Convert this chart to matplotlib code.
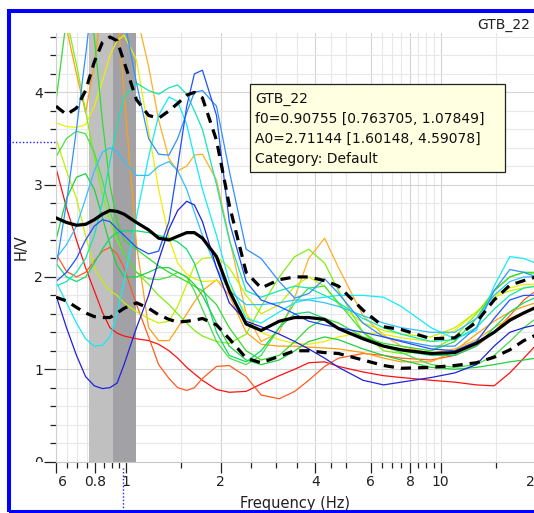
import matplotlib
matplotlib.use("Agg")
import matplotlib.pyplot as plt
from matplotlib.ticker import NullFormatter
from matplotlib.transforms import Bbox
from matplotlib.lines import Line2D
from matplotlib.patches import Rectangle

# frequencies (Hz) where the curves were read
freq = [0.599, 0.647, 0.696, 0.744, 0.793, 0.841, 0.889, 0.937, 0.986, 1.08, 1.18, 1.27,
        1.37, 1.46, 1.56, 1.65, 1.75, 1.94, 2.13, 2.41, 2.69, 3.07, 3.44, 3.81, 4.28, 4.74,
        5.67, 6.59, 7.50, 9.33, 11.1, 13.0, 14.8, 16.6, 18.4, 20.1]

# individual H/V curves
red = [3.18, 2.75, 2.40, 2.10, 1.85, 1.62, 1.45, 1.39, 1.36, 1.33, 1.31, 1.27, 1.20, 1.12, 1.02, 0.95, 0.88, 0.78,
       0.75, 0.76, 0.84, 0.93, 1.00, 1.07, 1.08, 1.03, 0.97, 0.93, 0.91, 0.88, 0.86, 0.83, 0.82, 0.96, 1.12, 1.26]
orange_red = [2.25, 2.06, 2.00, 2.05, 2.17, 2.28, 2.32, 2.25, 2.10, 1.70, 1.35, 1.05, 0.90, 0.80, 0.77, 0.80, 0.90, 1.03,
              1.04, 0.92, 0.72, 0.68, 0.76, 0.88, 1.03, 1.12, 1.17, 1.15, 1.12, 1.10, 1.15, 1.25, 1.40, 1.58, 1.75, 1.85]
orange_a = [5.2, 4.7, 4.2, 3.78, 4.3, 5.0, 5.2, 4.9, 4.0, 2.35, 1.45, 1.31, 1.31, 1.45, 1.6, 1.73, 1.85, 1.97,
            1.8, 1.4, 1.27, 1.25, 1.25, 1.24, 1.23, 1.22, 1.18, 1.12, 1.08, 1.08, 1.2, 1.38, 1.52, 1.62, 1.68, 1.72]
orange_b = [5.3, 5.3, 5.3, 5.3, 5.3, 5.3, 5.3, 5.3, 5.2, 4.85, 4.28, 3.7, 3.28, 3.15, 3.2, 3.32, 3.33, 3.05,
            2.42, 1.6, 1.3, 1.4, 1.78, 2.2, 2.42, 2.1, 1.58, 1.37, 1.25, 1.17, 1.22, 1.32, 1.45, 1.55, 1.62, 1.68]
yellow = [3.67, 3.63, 3.62, 3.65, 3.85, 4.12, 4.4, 4.56, 4.62, 4.35, 3.58, 2.95, 2.42, 2.15, 2.03, 1.98, 1.95, 1.96,
          1.9, 1.6, 1.4, 1.32, 1.28, 1.27, 1.3, 1.35, 1.4, 1.38, 1.34, 1.3, 1.42, 1.62, 1.8, 1.88, 1.92, 1.92]
yellow_green = [3.5, 3.15, 2.85, 2.45, 2.1, 1.95, 1.85, 1.8, 1.72, 1.62, 1.55, 1.5, 1.52, 1.68, 1.92, 2.12, 2.2, 2.22,
                2.1, 1.8, 1.6, 1.7, 1.9, 2.0, 1.9, 1.7, 1.5, 1.42, 1.38, 1.35, 1.45, 1.62, 1.78, 1.85, 1.88, 1.9]
light_green = [5.0, 4.8, 4.3, 3.8, 3.3, 2.9, 2.6, 2.4, 2.25, 2.05, 1.92, 1.8, 1.7, 1.6, 1.5, 1.42, 1.36, 1.3,
               1.28, 1.38, 1.68, 2.0, 2.22, 2.3, 2.15, 1.85, 1.4, 1.2, 1.17, 1.2, 1.35, 1.6, 1.85, 2.0, 2.05, 2.03]
green1 = [3.9, 4.8, 5.3, 5.2, 4.6, 3.7, 3.0, 2.6, 2.4, 2.3, 2.2, 2.12, 2.05, 2.0, 1.95, 1.9, 1.85, 1.7,
          1.45, 1.2, 1.1, 1.15, 1.3, 1.45, 1.55, 1.5, 1.35, 1.28, 1.25, 1.2, 1.3, 1.55, 1.85, 2.0, 2.05, 2.05]
green2 = [3.3, 3.5, 3.58, 3.55, 3.35, 3.05, 2.72, 2.45, 2.25, 2.05, 1.98, 1.97, 2.0, 2.05, 2.0, 1.85, 1.65, 1.3,
          1.12, 1.05, 1.15, 1.45, 1.72, 1.88, 1.9, 1.72, 1.4, 1.25, 1.18, 1.05, 1.02, 1.05, 1.15, 1.3, 1.45, 1.55]
green3 = [2.4, 2.85, 3.08, 3.12, 2.95, 2.65, 2.35, 2.12, 2.0, 2.0, 2.05, 2.1, 2.1, 2.05, 2.0, 1.92, 1.8, 1.5,
          1.25, 1.1, 1.05, 1.1, 1.2, 1.3, 1.35, 1.32, 1.22, 1.15, 1.1, 1.02, 1.0, 1.02, 1.05, 1.08, 1.1, 1.12]
green4 = [2.15, 2.0, 1.95, 2.0, 2.15, 2.3, 2.42, 2.48, 2.5, 2.5, 2.48, 2.45, 2.42, 2.38, 2.3, 2.15, 1.9, 1.4,
          1.15, 1.08, 1.2, 1.45, 1.6, 1.62, 1.55, 1.45, 1.32, 1.25, 1.2, 1.15, 1.15, 1.25, 1.45, 1.62, 1.72, 1.78]
aqua = [1.9, 1.95, 2.05, 2.2, 2.45, 2.8, 3.25, 3.65, 3.95, 4.1, 4.02, 3.98, 4.05, 4.08, 3.98, 3.8, 3.6, 3.0,
        2.4, 1.85, 1.78, 1.85, 1.9, 1.88, 1.8, 1.72, 1.55, 1.45, 1.38, 1.3, 1.32, 1.45, 1.65, 1.8, 1.88, 1.9]
cyan = [1.95, 1.72, 1.5, 1.33, 1.25, 1.26, 1.35, 1.6, 1.95, 2.65, 3.3, 3.75, 3.95, 3.9, 3.65, 3.3, 2.95, 2.45,
        1.95, 1.55, 1.5, 1.62, 1.72, 1.76, 1.78, 1.8, 1.8, 1.78, 1.68, 1.45, 1.33, 1.42, 1.9, 2.22, 2.2, 2.15]
sky = [2.2, 2.35, 2.55, 2.85, 3.15, 3.35, 3.4, 3.36, 3.25, 3.1, 3.1, 3.2, 3.25, 3.15, 2.95, 2.7, 2.45, 2.1,
       1.85, 1.7, 1.7, 1.72, 1.75, 1.75, 1.72, 1.68, 1.58, 1.5, 1.45, 1.4, 1.4, 1.55, 1.8, 1.95, 2.0, 2.0]
light_blue = [2.1, 2.8, 3.6, 4.4, 5.2, 5.5, 5.5, 5.3, 4.8, 4.1, 3.5, 3.33, 3.32, 3.5, 3.78, 4.0, 4.02, 3.85,
              3.15, 2.3, 2.2, 1.95, 1.77, 1.82, 1.98, 1.82, 1.5, 1.35, 1.31, 1.25, 1.25, 1.45, 1.85, 2.08, 2.05, 2.0]
blue = [1.95, 2.05, 2.2, 2.4, 2.55, 2.62, 2.6, 2.52, 2.45, 2.32, 2.25, 2.28, 2.6, 3.2, 3.85, 4.2, 4.24, 3.75,
        2.6, 1.95, 1.75, 1.68, 1.6, 1.52, 1.48, 1.45, 1.4, 1.35, 1.3, 1.22, 1.2, 1.3, 1.55, 1.75, 1.8, 1.8]
dark_blue = [1.8, 1.45, 1.15, 0.92, 0.82, 0.79, 0.8, 0.85, 1.05, 1.45, 1.8, 2.18, 2.52, 2.72, 2.82, 2.78, 2.6, 2.1,
             1.72, 1.52, 1.46, 1.38, 1.3, 1.22, 1.12, 1.02, 0.88, 0.83, 0.86, 0.91, 0.96, 1.05, 1.25, 1.4, 1.45, 1.48]

# average curve and +/- std
hv_mean = [2.64, 2.59, 2.56, 2.57, 2.62, 2.68, 2.72, 2.71, 2.68, 2.59, 2.51, 2.42, 2.40, 2.44, 2.48, 2.48, 2.42, 2.22,
           1.85, 1.49, 1.42, 1.52, 1.56, 1.56, 1.54, 1.44, 1.33, 1.25, 1.21, 1.17, 1.18, 1.28, 1.40, 1.53, 1.61, 1.67]
hv_upper = [3.85, 3.76, 3.83, 4.02, 4.33, 4.54, 4.60, 4.56, 4.33, 3.92, 3.75, 3.72, 3.80, 3.88, 3.97, 4.00, 3.94, 3.48,
            2.78, 2.05, 1.88, 1.97, 2.00, 2.00, 1.96, 1.90, 1.64, 1.46, 1.43, 1.33, 1.34, 1.51, 1.75, 1.91, 1.96, 2.00]
hv_lower = [1.78, 1.74, 1.67, 1.61, 1.57, 1.56, 1.56, 1.61, 1.66, 1.72, 1.66, 1.59, 1.54, 1.51, 1.52, 1.53, 1.55, 1.48,
            1.33, 1.12, 1.07, 1.14, 1.20, 1.20, 1.18, 1.17, 1.10, 1.04, 1.01, 1.02, 1.04, 1.07, 1.13, 1.21, 1.31, 1.37]

f0, f0_lo, f0_hi = 0.90755, 0.763705, 1.07849

xmajor = [0.6, 0.8, 1, 2, 4, 6, 8, 10, 20]
xmajor_labels = ['0.6', '0.8', '1', '2', '4', '6', '8', '10', '20']
xminor = [0.65, 0.7, 0.75, 0.85, 0.9, 0.95, 1.5, 2.5, 3, 3.5, 4.5, 5, 6.5, 7, 7.5, 8.5, 9, 9.5, 15]
ymajor = [0, 1, 2, 3, 4]
yminor = [0.2, 0.4, 0.6, 0.8, 1.2, 1.4, 1.6, 1.8, 2.2, 2.4, 2.6, 2.8, 3.2, 3.4, 3.6, 3.8, 4.2, 4.4, 4.6]

tooltip_lines = ['GTB_22', 'f0=0.90755 [0.763705, 1.07849]',
                 'A0=2.71144 [1.60148, 4.59078]', 'Category: Default']

curves = [
    (red, '#ff1010'), (orange_red, '#ff5a20'), (orange_a, '#ffa010'), (orange_b, '#ffb020'),
    (yellow, '#eeee00'), (yellow_green, '#c4f000'), (light_green, '#80ee10'), (green1, '#30dd30'),
    (green2, '#44e044'), (green3, '#20d040'), (green4, '#10d870'), (aqua, '#10e8b0'),
    (cyan, '#10ecf8'), (sky, '#30c0ff'), (light_blue, '#3090ff'), (blue, '#2050ff'),
    (dark_blue, '#2020e0'),
]

W, H = 534, 513
fig = plt.figure(figsize=(W / 100, H / 100), dpi=100)
ax = fig.add_axes([56.2 / W, (H - 461.5) / H, (538.6 - 56.2) / W, (461.5 - 33.3) / H])

ax.axvspan(f0_lo, f0, color='#c0c0c0', lw=0, zorder=1)
ax.axvspan(f0, f0_hi, color='#a2a2a6', lw=0, zorder=1)

for vals, c in curves:
    ax.plot(freq, vals, color=c, lw=0.9, zorder=2)

ax.plot(freq, hv_mean, color='black', lw=2.3, zorder=4)
ax.plot(freq, hv_upper, color='black', lw=2.3, dashes=(3.2, 2.2), zorder=4)
ax.plot(freq, hv_lower, color='black', lw=2.3, dashes=(3.2, 2.2), zorder=4)

ax.set_xscale('log')
ax.set_xlim(0.6, 20.5)
ax.set_ylim(0, 4.64)
ax.set_xticks(xmajor, labels=xmajor_labels)
ax.set_xticks(xminor, minor=True)
ax.xaxis.set_minor_formatter(NullFormatter())
ax.set_yticks(ymajor)
ax.set_yticks(yminor, minor=True)

ax.set_axisbelow(True)
ax.grid(True, which='major', color='#d4d4d4', lw=0.8)
ax.grid(True, which='minor', color='#e8e8e8', lw=0.8)

for s in ['top', 'right']:
    ax.spines[s].set_visible(False)
ax.spines['left'].set_color('#d0d0d0')
ax.spines['bottom'].set_color('#c8c8c8')
ax.spines['left'].set_linewidth(0.8)
ax.spines['bottom'].set_linewidth(0.8)

ax.tick_params(axis='x', which='major', length=8, width=0.9, pad=2, labelsize=10,
               colors='#202020')
ax.tick_params(axis='x', which='minor', length=4.3, width=0.9, colors='#202020')
ax.tick_params(axis='y', which='major', length=8.6, width=0.9, pad=1, labelsize=10,
               colors='#202020')
ax.tick_params(axis='y', which='minor', length=4.3, width=0.9, colors='#202020')

# the first labels are cut by the plot area, as in the original
xt = ax.xaxis.get_major_ticks()
xt[0].label1.set_clip_box(Bbox.from_extents(56.5, 0, W, H))
xt[0].label1.set_clip_on(True)
yt = ax.yaxis.get_major_ticks()
yt[0].label1.set_clip_box(Bbox.from_extents(0, H - 461.5, W, H))
yt[0].label1.set_clip_on(True)

ax.set_xlabel('Frequency (Hz)', fontsize=10.5, color='#202020', va='top')
ax.xaxis.set_label_coords(0.494, -0.08)
ax.set_ylabel('H/V', fontsize=10.5, color='#202020')
ax.yaxis.set_label_coords(-0.058, 0.5)

fig.text(477 / W, 1 - 25 / H, 'GTB_22', ha='left', va='center', fontsize=10, color='#202020')

# info box
fig.patches.append(Rectangle((249.5 / W, 1 - 171.7 / H), (505 - 249.5) / W, (171.7 - 84) / H,
                             transform=fig.transFigure, facecolor='#ffffe1', edgecolor='#202020',
                             lw=0.9, zorder=10))
for i, line in enumerate(tooltip_lines):
    fig.text(255 / W, 1 - (103 + 20 * i) / H, line, ha='left', va='baseline', fontsize=10,
             color='#101010', zorder=11)

# cursor markers
fig.lines.append(Line2D([123.3 / W, 123.3 / W], [1 - 468 / H, 1 - 510 / H], transform=fig.transFigure,
                        color='#2020ff', lw=1, linestyle=(0, (1, 1.5))))
fig.lines.append(Line2D([12 / W, 55 / W], [1 - 141.7 / H, 1 - 141.7 / H], transform=fig.transFigure,
                        color='#2020ff', lw=1, linestyle=(0, (1, 1.5))))

# blue frame
fig.patches.append(Rectangle((8.5 / W, 1 - 511.5 / H), (600 - 8.5) / W, (511.5 - 10.5) / H,
                             transform=fig.transFigure, fill=False, edgecolor='#0000ff', lw=2.9,
                             zorder=12))

fig.savefig('out.png', dpi=100)
